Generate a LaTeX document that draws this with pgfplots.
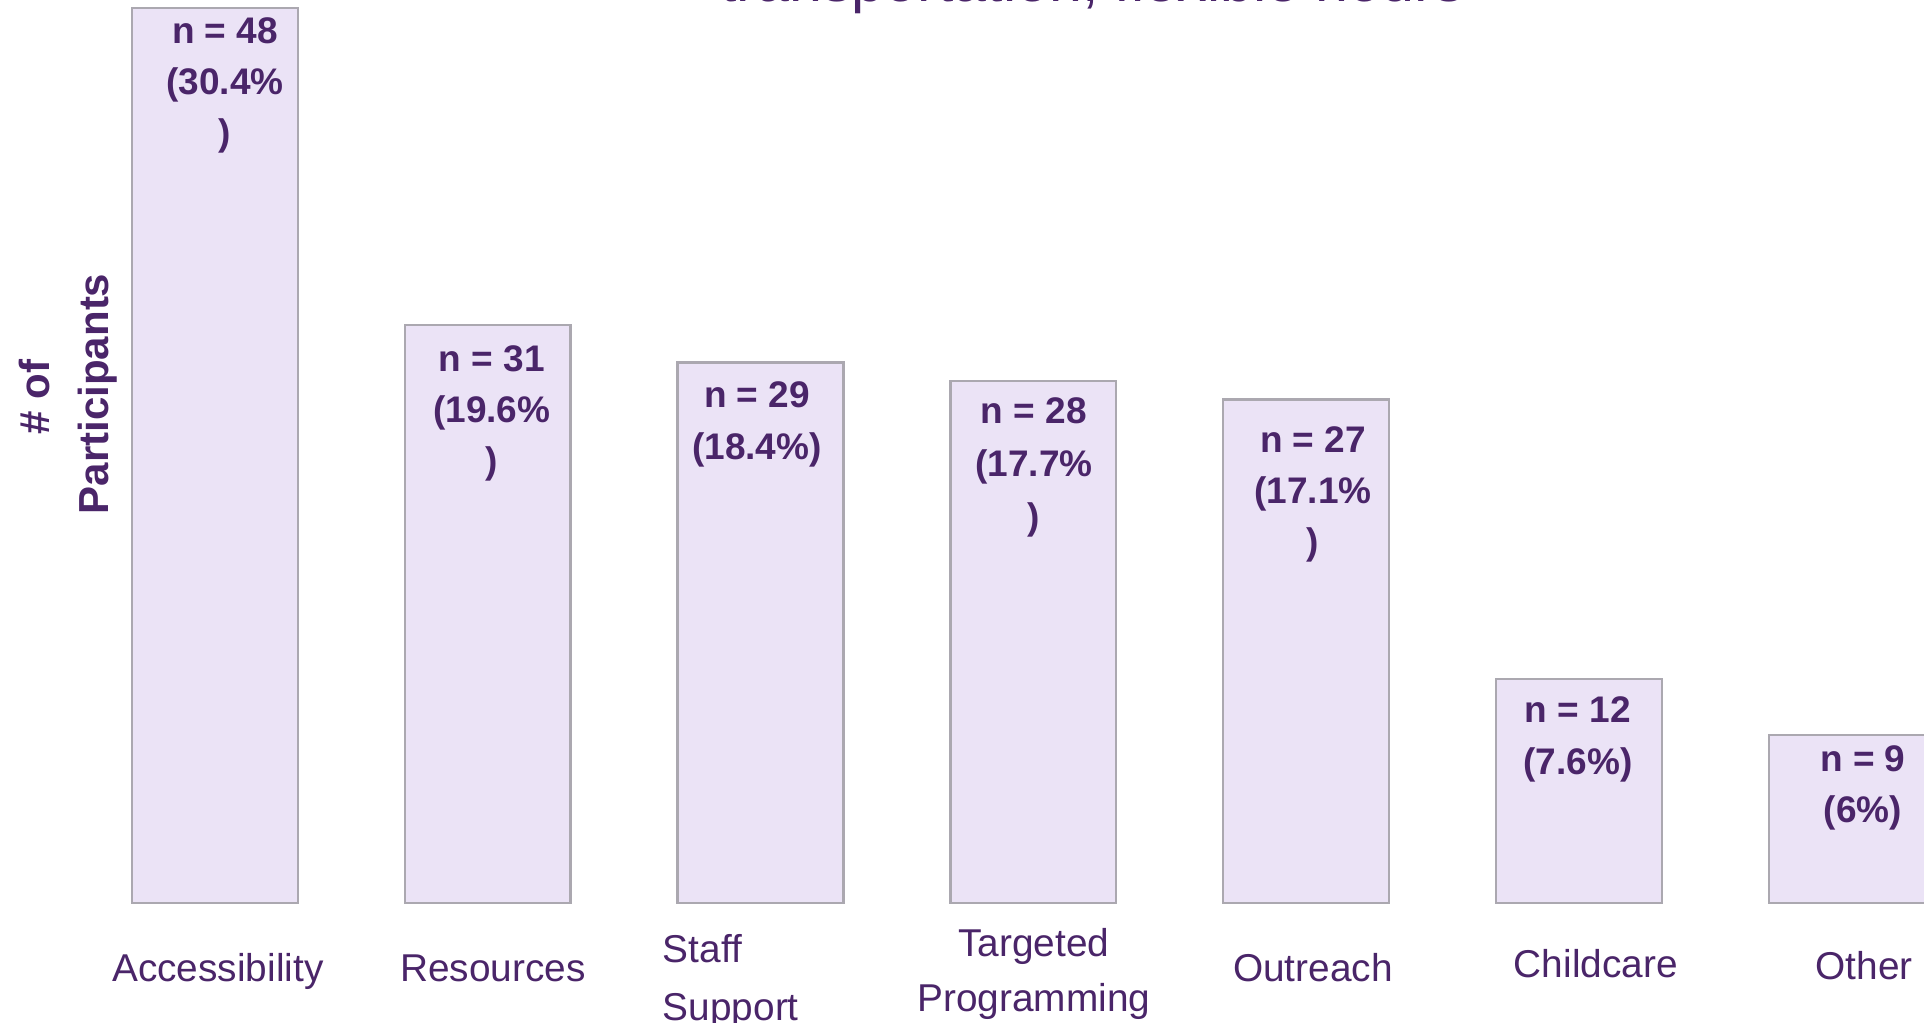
\documentclass[border=0pt]{standalone}
\usepackage{pgfplots}
\pgfplotsset{compat=1.18}
\usepackage{fontspec}
\setmainfont{Liberation Sans}
\definecolor{txtpurple}{HTML}{4A2569}
\definecolor{barfill}{HTML}{EBE3F6}
\definecolor{baredge}{HTML}{ABA8B0}
\begin{document}
\begin{tikzpicture}[
  nlab/.style={font=\fontsize{9.25}{11}\selectfont\bfseries, text=txtpurple, anchor=base, inner sep=0pt},
  clab/.style={font=\fontsize{9.7}{12}\selectfont, text=txtpurple, anchor=base, inner sep=0pt},
  ylab/.style={font=\fontsize{10.5}{12}\selectfont\bfseries, text=txtpurple, anchor=base, inner sep=0pt, rotate=90},
]
\useasboundingbox (0,0) rectangle (481pt,255.75pt);
\clip (0,0) rectangle (481pt,255.75pt);
\begin{axis}[
    at={(0,0)}, anchor=south west,
    width=481pt, height=255.75pt, scale only axis,
    xmin=-0.788, xmax=6.265,
    ymin=-6.44, ymax=48.44,
    hide axis,
    ybar, bar width=0.608,
    clip=false,
]
\addplot[fill=barfill, draw=baredge, line width=0.6pt] coordinates {
    (0,48) (1,31) (2,29) (3,28) (4,27) (5,12) (6,9)
};

% title, mostly cut off at the top
\node[font=\fontsize{14.8}{16}\selectfont, text=txtpurple, anchor=base, inner sep=0pt]
    at (3.215,48.34) {transportation, flexible hours};

% y label
\node[ylab] at (-0.605,27.15) {\# of};
\node[ylab] at (-0.392,27.31) {Participants};

% bar labels
\node[nlab] at (0.037,46.08) {n = 48};
\node[nlab] at (0.037,43.35) {(30.4\%};
\node[nlab] at (0.037,40.61) {)};

\node[nlab] at (1.015,28.49) {n = 31};
\node[nlab] at (1.015,25.75) {(19.6\%};
\node[nlab] at (1.015,23.02) {)};

\node[nlab] at (1.987,26.56) {n = 29};
\node[nlab] at (1.987,23.77) {(18.4\%)};

\node[nlab] at (3.002,25.70) {n = 28};
\node[nlab] at (3.002,22.85) {(17.7\%};
\node[nlab] at (3.002,20.01) {)};

\node[nlab] at (4.025,24.14) {n = 27};
\node[nlab] at (4.025,21.41) {(17.1\%};
\node[nlab] at (4.025,18.67) {)};

\node[nlab] at (4.996,9.66) {n = 12};
\node[nlab] at (4.996,6.87) {(7.6\%)};

\node[nlab] at (6.041,7.03) {n = 9};
\node[nlab] at (6.041,4.29) {(6\%)};

% category labels
\node[clab] at (0.011,-4.24) {Accessibility};
\node[clab] at (1.019,-4.24) {Resources};
\node[clab, anchor=base west] at (1.639,-3.17) {Staff};
\node[clab, anchor=base west] at (1.639,-6.28) {Support};
\node[clab] at (3.002,-2.90) {Targeted};
\node[clab] at (3.002,-5.85) {Programming};
\node[clab] at (4.025,-4.24) {Outreach};
\node[clab] at (5.062,-4.02) {Childcare};
\node[clab] at (6.045,-4.13) {Other};
\end{axis}
\end{tikzpicture}
\end{document}
